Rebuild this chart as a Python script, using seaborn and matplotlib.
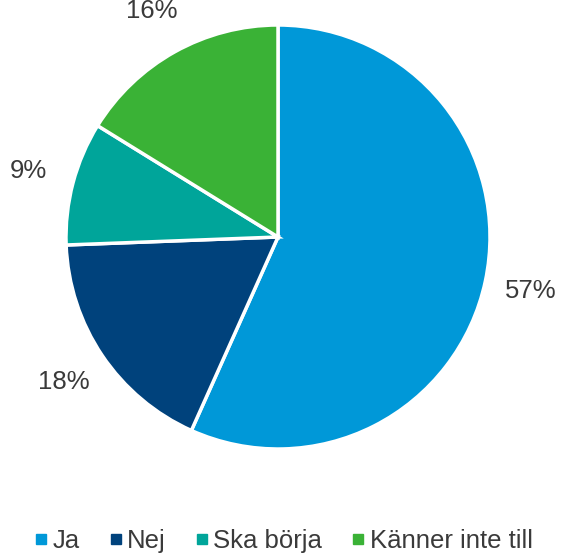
import matplotlib
matplotlib.use('Agg')
import matplotlib.pyplot as plt
import seaborn as sns
from matplotlib.lines import Line2D

labels = ['Ja', 'Nej', 'Ska börja', 'Känner inte till']
values = [56.7, 17.7, 9.4, 16.2]
pct_labels = ['57%', '18%', '9%', '16%']
colors = ['#0098d8', '#00427c', '#00a59a', '#3ab236']

sns.set_theme(style='white')
plt.rcParams['font.family'] = ['Liberation Sans', 'DejaVu Sans']
palette = sns.color_palette(colors)

fig = plt.figure(figsize=(5.66, 5.55), dpi=100)
r = 212
cx, cy = 278, 555 - 237
ax = fig.add_axes([(cx - r) / 566, (cy - r) / 555, 2 * r / 566, 2 * r / 555])

wedges, texts = ax.pie(values, colors=palette, startangle=90, counterclock=False,
                       labels=pct_labels, labeldistance=1.22,
                       wedgeprops=dict(edgecolor='white', linewidth=2.5),
                       textprops=dict(fontsize=18.5, color='#3a3a3a'))
for t in texts:
    t.set_ha('center')
    t.set_va('center')
ax.set_xlim(-1, 1)
ax.set_ylim(-1, 1)
ax.set_aspect('equal')
ax.axis('off')

handles = [Line2D([], [], marker='s', linestyle='', markersize=6.5, color=c) for c in palette]
fig.legend(handles, labels, loc='center', bbox_to_anchor=(0.5, 1 - 541 / 555), ncol=4,
           frameon=False, fontsize=18.5, handletextpad=0.15, columnspacing=1.1,
           handlelength=0.6, labelcolor='#3a3a3a')

fig.savefig('out.png', dpi=100)
